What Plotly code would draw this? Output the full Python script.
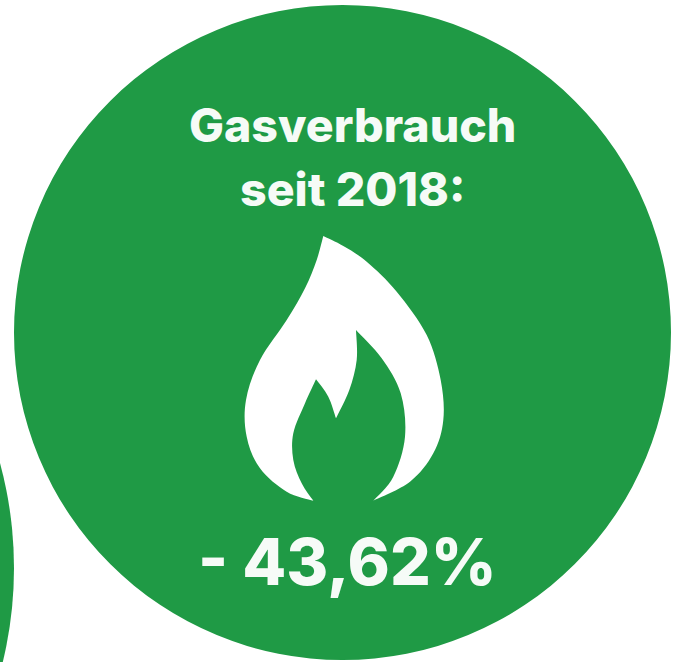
import plotly.graph_objects as go

# content
title_lines = ["Gasverbrauch", "seit 2018:"]
value_label = "- 43,62%"

GREEN = "#1f9a45"
WHITE = "#f6fbf7"
FONT = "Inter"

# flame icon outline: smooth runs between sharp corners
flame_runs = [
    [(280, 48), (340, 78), (410, 125), (500, 215), (590, 345), (632, 480), (640, 600), (610, 700), (540, 785), (430, 842)],
    [(430, 842), (490, 770), (525, 650), (512, 520), (455, 415), (378, 330)],
    [(378, 330), (380, 420), (358, 510), (318, 595)],
    [(318, 595), (295, 530), (258, 478)],
    [(258, 478), (225, 550), (190, 640), (190, 720), (215, 790), (250, 842)],
    [(250, 842), (170, 815), (90, 745), (50, 650), (48, 540), (90, 420), (170, 300), (225, 205), (260, 120), (280, 48)],
]


def to_px(p):
    return 230 + p[0] / 3, 220 + p[1] / 3


def run_to_path(run, first):
    pts = [to_px(p) for p in run]
    out = f"M{pts[0][0]:.1f},{pts[0][1]:.1f}" if first else ""
    for i in range(len(pts) - 1):
        p0 = pts[max(i - 1, 0)]
        p1 = pts[i]
        p2 = pts[i + 1]
        p3 = pts[min(i + 2, len(pts) - 1)]
        c1 = (p1[0] + (p2[0] - p0[0]) / 6, p1[1] + (p2[1] - p0[1]) / 6)
        c2 = (p2[0] - (p3[0] - p1[0]) / 6, p2[1] - (p3[1] - p1[1]) / 6)
        out += f" C{c1[0]:.1f},{c1[1]:.1f} {c2[0]:.1f},{c2[1]:.1f} {p2[0]:.1f},{p2[1]:.1f}"
    return out


flame_path = "".join(run_to_path(r, i == 0) for i, r in enumerate(flame_runs)) + " Z"

fig = go.Figure()
fig.add_shape(type="circle", x0=14, x1=671, y0=5, y1=660, fillcolor=GREEN, line_width=0, layer="below")
fig.add_shape(type="circle", x0=-786, x1=14, y0=168, y1=968, fillcolor=GREEN, line_width=0, layer="below")
fig.add_shape(type="path", path=flame_path, fillcolor="#ffffff", line_width=0)

fig.add_annotation(x=352, y=125, text=title_lines[0], showarrow=False,
                   font=dict(family=FONT, size=46.5, weight=800, color=WHITE))
fig.add_annotation(x=352.5, y=189, text=title_lines[1], showarrow=False,
                   font=dict(family=FONT, size=46.5, weight=800, color=WHITE))
fig.add_annotation(x=347.5, y=561, text=value_label, showarrow=False,
                   font=dict(family=FONT, size=64, weight=800, color=WHITE))

fig.update_layout(
    width=680, height=662,
    margin=dict(l=0, r=0, t=0, b=0),
    paper_bgcolor="white", plot_bgcolor="white",
    showlegend=False,
    xaxis=dict(range=[0, 680], visible=False, fixedrange=True),
    yaxis=dict(range=[662, 0], visible=False, fixedrange=True),
)
fig.write_html("out.html", config={"displayModeBar": False},
               post_script="document.body.style.margin='0';document.documentElement.style.overflow='hidden';")
